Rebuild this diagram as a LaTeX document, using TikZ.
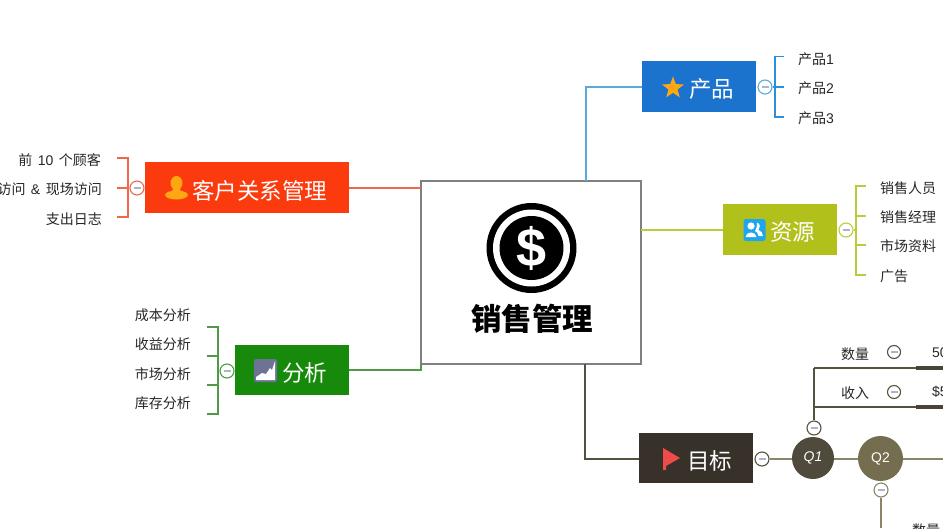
\documentclass[tikz,border=0pt]{standalone}
\usepackage{fontspec}
\setmainfont{Noto Sans CJK SC}
\newfontfamily\latinfont{Liberation Sans}
\usetikzlibrary{shapes.geometric}
\definecolor{rootline}{HTML}{808080}
\definecolor{prodfill}{HTML}{1B73CE}
\definecolor{prodline}{HTML}{5AA9DE}
\definecolor{prodtick}{HTML}{2C8FDC}
\definecolor{custfill}{HTML}{FB3B0E}
\definecolor{custline}{HTML}{F0674C}
\definecolor{resfill}{HTML}{B2C01B}
\definecolor{resline}{HTML}{BCCB3E}
\definecolor{resicon}{HTML}{1EA5F0}
\definecolor{anafill}{HTML}{178A0C}
\definecolor{analine}{HTML}{4F9A45}
\definecolor{anaicon}{HTML}{6E7393}
\definecolor{goalfill}{HTML}{38312A}
\definecolor{goalline}{HTML}{55513F}
\definecolor{flagred}{HTML}{F04B4B}
\definecolor{qline}{HTML}{8A8468}
\definecolor{qone}{HTML}{4F4A3C}
\definecolor{qtwo}{HTML}{756D50}
\definecolor{minusgray}{HTML}{AEB4C8}
\definecolor{staricon}{HTML}{FFA712}
\tikzset{
  topic/.style={fill=#1, inner sep=0pt, minimum height=50.5},
  topictext/.style={inner sep=0pt, text=white, anchor=west, font=\fontsize{22.5}{26}\selectfont},
  leaf/.style={inner sep=0pt, text=black!85, font=\fontsize{14}{16}\selectfont},
  collapse/.style={circle, draw=#1, fill=white, line width=1.1pt, inner sep=0pt, minimum size=14,
    path picture={\draw [minusgray, line width=1.4pt] (path picture bounding box.center) ++(-3.5,0) -- ++(7,0);}},
  branch/.style={#1, line width=1.1pt},
  bracket/.style={#1, line width=1.4pt},
  quarter/.style={circle, fill=#1, text=white, inner sep=0pt, font=\latinfont\fontsize{14}{16}\selectfont}
}
\begin{document}
\begin{tikzpicture}[x=1pt, y=-1pt]
        \clip (0, 0) rectangle (943, 528);
        % centre
        \node [draw=rootline, line width=1.4pt, fill=white, minimum width=220, minimum height=183, inner sep=0pt] at (531, 272.5) (root) {};
        \node [circle, fill=black, minimum size=90, inner sep=0pt] at (531.5, 248) (coin) {};
        \node [circle, fill=white, minimum size=77, inner sep=0pt] at (531.5, 248) (coinring) {};
        \node [circle, fill=black, minimum size=64, inner sep=0pt, text=white, font=\latinfont\bfseries\fontsize{54}{54}\selectfont] at (531.5, 248) (coincore) {\$};
        \node [inner sep=0pt, font=\fontsize{30.5}{34}\selectfont\bfseries] at (532, 319) (title) {销售管理};

        % product
        \node [topic=prodfill, minimum width=114] at (699, 86.5) (prod) {};
        \node [topictext] at (689, 89) (prodt) {产品};
        \node [star, star points=5, star point ratio=2.4, fill=staricon, inner sep=0pt, minimum size=23] at (673, 88) (staric) {};
        \node [collapse=prodline] at (765, 87) (prodc) {};
        \coordinate (p0) at (586, 181);
        \coordinate (p1) at (586, 87);
        \coordinate (p2) at (642, 87);
        \coordinate (pt) at (775, 56.5);
        \coordinate (pu) at (775, 117);
        \coordinate (pm) at (784, 87);
        \coordinate (pa) at (784, 56.5);
        \coordinate (pc) at (784, 117);
        \node [leaf, anchor=west] at (798, 59) (prod1) {产品{\latinfont 1}};
        \node [leaf, anchor=west] at (798, 88) (prod2) {产品{\latinfont 2}};
        \node [leaf, anchor=west] at (798, 118) (prod3) {产品{\latinfont 3}};
        \draw [branch=prodline] (p0) -- (p1) -- (p2);
        \draw [prodtick, line width=1.9pt] (pa) -- (pt) -- (pu) -- (pc);
        \draw [prodtick, line width=1.9pt] (prodc) -- (pm);

        % customer
        \node [topic=custfill, minimum width=204] at (247, 187.5) (cust) {};
        \node [topictext] at (192, 190.5) (custt) {客户关系管理};
        \fill [staricon] (176.5, 183) ellipse [x radius=6, y radius=7];
        \fill [staricon] (173, 188) -- (180, 188) -- (181, 192) -- (172, 192) -- cycle;
        \fill [staricon] (176.5, 195) ellipse [x radius=11.5, y radius=4.5];
        \node [collapse=custline] at (137, 188) (custc) {};
        \coordinate (c0) at (349, 188);
        \coordinate (c1) at (421, 188);
        \coordinate (ct) at (128, 158);
        \coordinate (cu) at (128, 217);
        \coordinate (ca) at (117, 158);
        \coordinate (cm) at (117, 188);
        \coordinate (cc) at (117, 217);
        \node [leaf, anchor=east] at (101, 160) (cust1) {前~{\latinfont\,10\,}~个顾客};
        \node [leaf, anchor=east] at (102, 189) (cust2) {访问~\,{\latinfont\&}\,~现场访问};
        \node [leaf, anchor=east] at (102, 219) (cust3) {支出日志};
        \draw [branch=custline] (c0) -- (c1);
        \draw [bracket=custline] (ca) -- (ct) -- (cu) -- (cc);
        \draw [bracket=custline] (custc) -- (cm);

        % resources
        \node [topic=resfill, minimum width=114] at (780, 229.5) (res) {};
        \node [topictext] at (770, 232.5) (rest) {资源};
        \node [rounded corners=2.5, fill=resicon, minimum size=22, inner sep=0pt] at (754.5, 230) (resic) {};
        \fill [white] (751, 226) circle [radius=3.6];
        \fill [white] (745.5, 237) .. controls (746, 231) and (756, 231) .. (756.5, 237) -- cycle;
        \fill [white] (757, 222.5) .. controls (761, 224) and (760, 228) .. (758.5, 230) .. controls (761, 231) and (763, 233) .. (763, 236) -- (758.5, 236) .. controls (758, 233) and (757, 232) .. (755, 231) .. controls (757, 228) and (757, 225) .. cycle;
        \node [collapse=resline] at (846, 230) (resc) {};
        \coordinate (r0) at (641, 230);
        \coordinate (r1) at (723, 230);
        \coordinate (rt) at (856, 186);
        \coordinate (ru) at (856, 275);
        \coordinate (ra) at (866, 186);
        \coordinate (rb) at (866, 216);
        \coordinate (rc) at (866, 245);
        \coordinate (rd) at (866, 275);
        \coordinate (re) at (856, 216);
        \coordinate (rf) at (856, 245);
        \coordinate (rm) at (856, 230);
        \node [leaf, anchor=west] at (880, 188) (res1) {销售人员};
        \node [leaf, anchor=west] at (880, 217.5) (res2) {销售经理};
        \node [leaf, anchor=west] at (880, 246.5) (res3) {市场资料};
        \node [leaf, anchor=west] at (880, 276) (res4) {广告};
        \draw [branch=resline] (r0) -- (r1);
        \draw [bracket=resline] (ra) -- (rt) -- (ru) -- (rd);
        \draw [bracket=resline] (re) -- (rb);
        \draw [bracket=resline] (rf) -- (rc);
        \draw [bracket=resline] (resc) -- (rm);

        % analysis
        \node [topic=anafill, minimum width=114] at (292, 370) (ana) {};
        \node [topictext] at (282, 373) (anat) {分析};
        \node [rounded corners=2, fill=anaicon, minimum size=23, inner sep=0pt] at (265.5, 370.5) (anaic) {};
        \fill [white] (256, 380) -- (256, 377) -- (262, 373) -- (266, 374) -- (270, 368) -- (272, 370) -- (275, 361) -- (275, 380) -- cycle;
        \node [collapse=analine] at (227, 371) (anac) {};
        \coordinate (a0) at (421, 364);
        \coordinate (a1) at (421, 370);
        \coordinate (at) at (218, 327);
        \coordinate (au) at (218, 414);
        \coordinate (aa) at (207, 327);
        \coordinate (ab) at (207, 356);
        \coordinate (ac) at (207, 385);
        \coordinate (ad) at (207, 414);
        \coordinate (ae) at (218, 356);
        \coordinate (af) at (218, 385);
        \coordinate (am) at (218, 371);
        \node [leaf, anchor=east] at (191, 315) (ana1) {成本分析};
        \node [leaf, anchor=east] at (191, 344.5) (ana2) {收益分析};
        \node [leaf, anchor=east] at (191, 374) (ana3) {市场分析};
        \node [leaf, anchor=east] at (191, 403.5) (ana4) {库存分析};
        \draw [branch=analine] (ana.east) -- (a1) -- (a0);
        \draw [bracket=analine] (aa) -- (at) -- (au) -- (ad);
        \draw [bracket=analine] (ab) -- (ae);
        \draw [bracket=analine] (ac) -- (af);
        \draw [bracket=analine] (anac) -- (am);

        % goal
        \coordinate (g0) at (585, 364);
        \coordinate (g1) at (585, 459);
        \coordinate (g2) at (639, 459);
        \coordinate (gend) at (943, 459);
        \coordinate (q1a) at (814, 368);
        \coordinate (q1b) at (814, 407);
        \coordinate (q1c) at (916, 368);
        \coordinate (q1d) at (916, 407);
        \coordinate (q1e) at (943, 368);
        \coordinate (q1f) at (943, 407);
        \coordinate (q2a) at (881, 528);
        \node [topic=goalfill, minimum width=114] at (696, 458) (goal) {};
        \node [topictext] at (687, 461) (goalt) {目标};
        \node [collapse=goalline] at (762, 459) (goalc) {};
        \draw [branch=goalline] (g0) -- (g1) -- (g2);
        \draw [branch=qline] (goalc) -- (gend);
        \fill [flagred] (663, 448) -- (680, 458) -- (666, 466) -- (666, 470) -- (663, 470) -- cycle;
        \node [quarter=qone, minimum size=42] at (813, 458) (q1) {\itshape Q1};
        \node [quarter=qtwo, minimum size=45] at (880.5, 458.5) (q2) {Q2};
        \node [collapse=goalline] at (814, 428) (q1c0) {};
        \node [collapse=qline] at (881, 490) (q2c0) {};
        \draw [branch=goalline] (q1c0) -- (q1a);
        \draw [branch=goalline] (q1a) -- (q1e);
        \draw [branch=goalline] (q1b) -- (q1f);
        \draw [goalline!85!black, line width=3.5pt] (q1c) -- (q1e);
        \draw [goalline!85!black, line width=3.5pt] (q1d) -- (q1f);
        \draw [branch=qline] (q2c0) -- (q2a);
        \node [leaf, anchor=west] at (841, 354) (qty) {数量};
        \node [leaf, anchor=west] at (841, 393) (rev) {收入};
        \node [collapse=goalline, minimum size=13] at (894, 352) (qtyc) {};
        \node [collapse=goalline, minimum size=13] at (894, 392) (revc) {};
        \node [leaf, anchor=west, font=\latinfont\fontsize{14}{16}\selectfont] at (932, 353) (qtyv) {50};
        \node [leaf, anchor=west, font=\latinfont\fontsize{14}{16}\selectfont] at (932, 392) (revv) {\$5};
        \node [leaf, anchor=west] at (912, 530) (qty2) {数量};
\end{tikzpicture}
\end{document}
